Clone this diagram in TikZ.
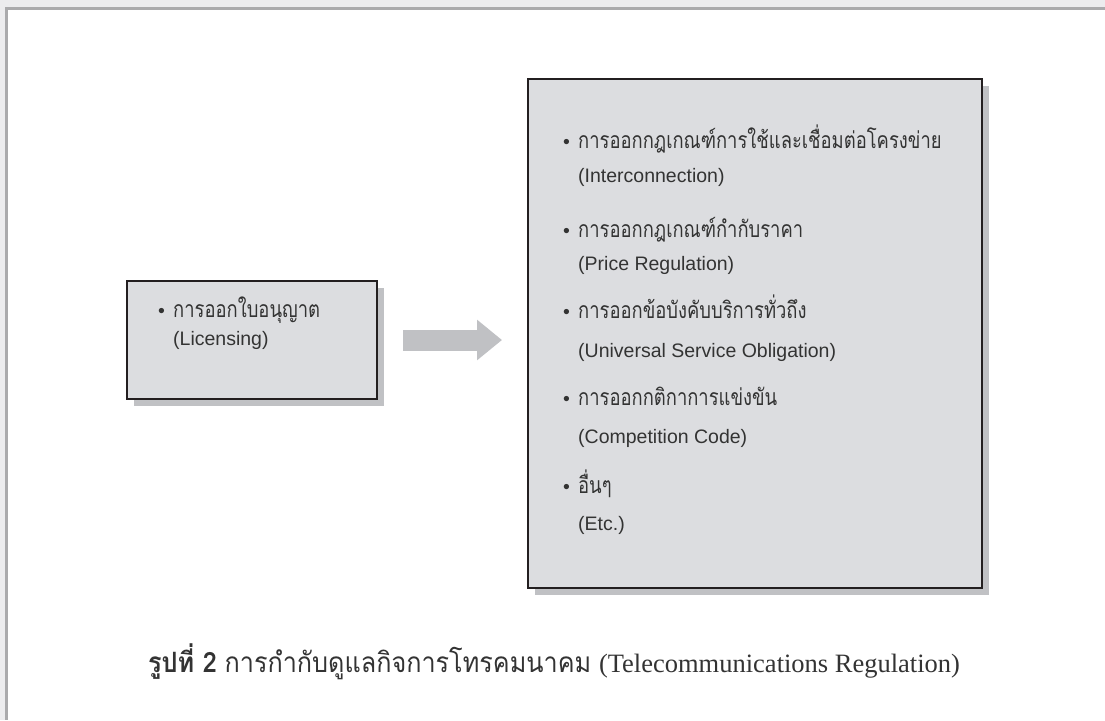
\documentclass[tikz,border=0pt]{standalone}
\usepackage{fontspec}
\setmainfont{Liberation Sans}
\newfontfamily\thai[Script=Thai, FakeStretch=0.8]{Loma}
\newfontfamily\capthai[Script=Thai, FakeStretch=0.9]{Loma}
\newfontfamily\capserif{Liberation Serif}
\usetikzlibrary{arrows.meta,shadows}

\definecolor{pagegray}{HTML}{ECECEE}
\definecolor{framegray}{HTML}{AAAAAC}
\definecolor{boxfill}{HTML}{DCDDE0}
\definecolor{boxline}{HTML}{231F20}
\definecolor{shadowgray}{HTML}{C0C1C4}
\definecolor{inkgray}{HTML}{333333}

% bullet followed by a Thai line, set a little larger than the Latin text
\newcommand{\bul}{\makebox[15pt][l]{•}}
\newcommand{\thline}[1]{{\thai\fontsize{23}{27}\selectfont #1}}

\tikzset{
  panel/.style={draw=boxline, line width=2pt, fill=boxfill, inner sep=0pt,
    drop shadow={shadow xshift=7pt, shadow yshift=-7pt, fill=shadowgray, opacity=1}},
  item/.style={anchor=base west, inner sep=0pt, text=inkgray, font=\fontsize{19.5}{22}\selectfont},
  flow/.style={draw=shadowgray, line width=21pt,
    -{Triangle[length=25pt,width=39pt]}, shorten <=25pt, shorten >=25pt},
}

\begin{document}
\begin{tikzpicture}[x=1pt,y=-1pt]
  % page and frame
  \fill[pagegray] (0,0) rectangle (1105,720);
  \fill[framegray] (5,7) rectangle (1105,720);
  \fill[white] (8,10) rectangle (1105,720);
  \useasboundingbox (0,0) rectangle (1105,720);

  % the two panels
  \node[panel, minimum width=250pt, minimum height=118pt] (lic) at (252,340) {};
  \node[panel, minimum width=454pt, minimum height=509pt] (reg) at (755,333.5) {};

  % arrow between them
  \draw[flow] (lic.east) -- (lic.east -| reg.west);

  % left panel text
  \node[item] (l1) at (158,317) {\bul\thline{การออกใบอนุญาต}};
  \node[item] (l2) at (173,345) {(Licensing)};

  % right panel text
  \node[item] (r1) at (563,148) {\bul\thline{การออกกฎเกณฑ์การใช้และเชื่อมต่อโครงข่าย}};
  \node[item] (r1e) at (578,182) {(Interconnection)};
  \node[item] (r2) at (563,237) {\bul\thline{การออกกฎเกณฑ์กำกับราคา}};
  \node[item] (r2e) at (578,270) {(Price Regulation)};
  \node[item] (r3) at (563,318) {\bul\thline{การออกข้อบังคับบริการทั่วถึง}};
  \node[item] (r3e) at (578,357) {(Universal Service Obligation)};
  \node[item] (r4) at (563,405) {\bul\thline{การออกกติกาการแข่งขัน}};
  \node[item] (r4e) at (578,443) {(Competition Code)};
  \node[item] (r5) at (563,493) {\bul\thline{อื่นๆ}};
  \node[item] (r5e) at (578,530) {(Etc.)};

  % caption
  \node[anchor=base west, inner sep=0pt, text=inkgray, font=\fontsize{28}{32}\selectfont] (cap) at (148,672)
    {{\capthai\bfseries รูปที่ 2} {\capthai การกำกับดูแลกิจการโทรคมนาคม} {\capserif\fontsize{26.5}{32}\selectfont (Telecommunications Regulation)}};
\end{tikzpicture}
\end{document}
